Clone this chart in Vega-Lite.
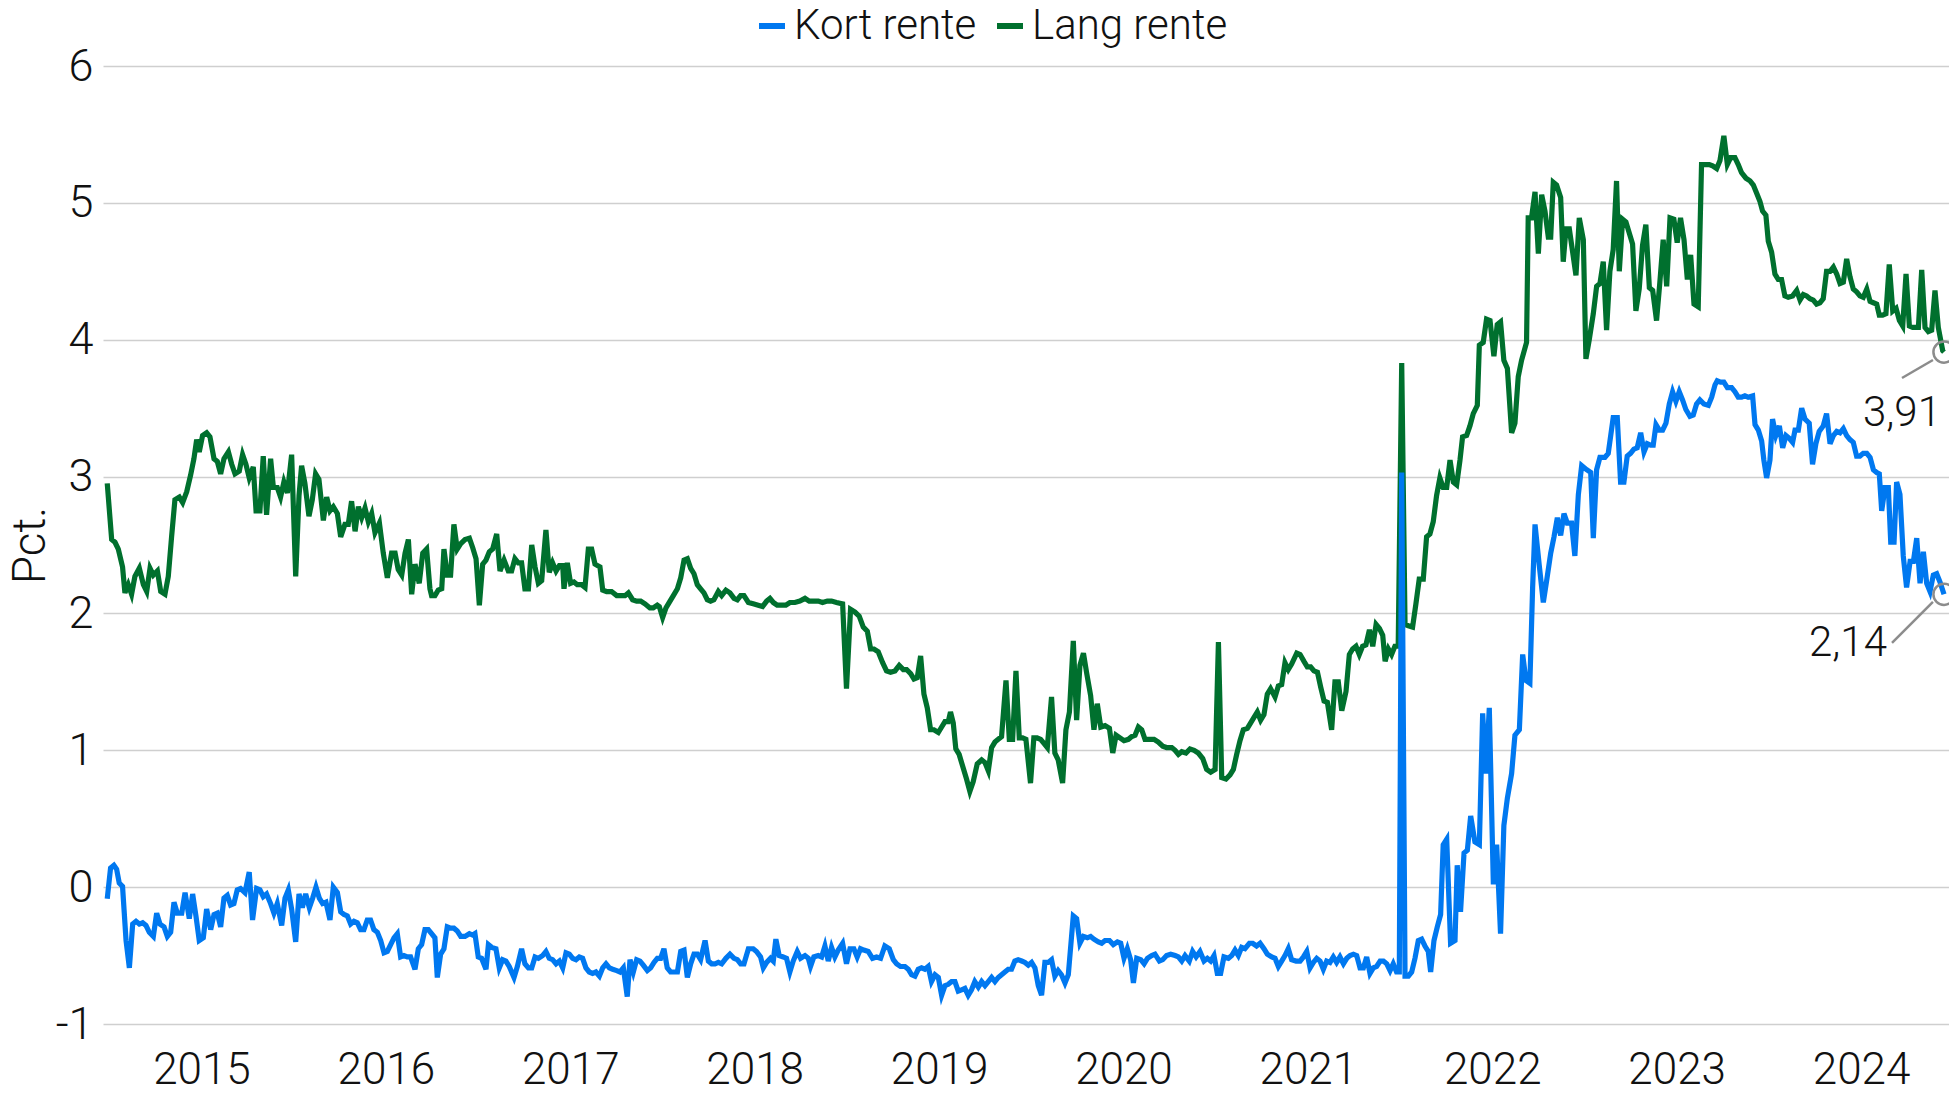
{
"$schema":"https://vega.github.io/schema/vega-lite/v6.json",
"width":1846,"height":958,
"autosize":{"type":"none"},
"padding":{"left":103,"top":66,"right":0,"bottom":70},
"background":"white",
"config":{
"view":{"stroke":null},
"font":"Roboto",
"axisX":{"grid":false,"ticks":false,"tickSize":0,"domain":false,"labelFontSize":44,"labelFont":"Roboto","labelFontWeight":300,"labelColor":"#111111","labelPadding":59,"labelBaseline":"alphabetic","labelFlush":false,"labelOverlap":false},
"axisY":{"grid":true,"gridColor":"#cfcfcf","gridWidth":1.3,"ticks":false,"tickSize":0,"domain":false,"labelFontSize":45,"labelFont":"Roboto","labelFontWeight":300,"labelColor":"#111111","labelPadding":10,"titleFontSize":46,"titleFont":"Roboto","titleFontWeight":300,"titleColor":"#111111"},
"legend":{"orient":"none","legendX":648,"legendY":-61,"direction":"horizontal","symbolType":"stroke","symbolStrokeWidth":6,"symbolSize":676,"labelFontSize":42,"labelFont":"Roboto","labelFontWeight":300,"labelColor":"#111111","labelOffset":1,"labelLimit":500,"columnPadding":8,"padding":0}
},
"datasets":{
"lang":[
{"t":2014.989,"v":2.95},{"t":2015.013,"v":2.54},{"t":2015.031,"v":2.52},{"t":2015.049,"v":2.47},{"t":2015.072,"v":2.34},{"t":2015.085,"v":2.15},{"t":2015.103,"v":2.21},{"t":2015.121,"v":2.14},{"t":2015.139,"v":2.27},{"t":2015.163,"v":2.33},{"t":2015.185,"v":2.21},{"t":2015.203,"v":2.16},{"t":2015.221,"v":2.33},{"t":2015.239,"v":2.28},{"t":2015.261,"v":2.31},{"t":2015.279,"v":2.16},{"t":2015.302,"v":2.14},{"t":2015.320,"v":2.27},{"t":2015.338,"v":2.56},{"t":2015.356,"v":2.83},{"t":2015.380,"v":2.85},{"t":2015.398,"v":2.81},{"t":2015.420,"v":2.89},{"t":2015.441,"v":3.01},{"t":2015.459,"v":3.13},{"t":2015.474,"v":3.27},{"t":2015.488,"v":3.18},{"t":2015.506,"v":3.30},{"t":2015.528,"v":3.32},{"t":2015.546,"v":3.29},{"t":2015.568,"v":3.13},{"t":2015.586,"v":3.11},{"t":2015.604,"v":3.02},{"t":2015.622,"v":3.13},{"t":2015.646,"v":3.18},{"t":2015.664,"v":3.09},{"t":2015.682,"v":3.02},{"t":2015.705,"v":3.04},{"t":2015.723,"v":3.16},{"t":2015.741,"v":3.09},{"t":2015.759,"v":2.99},{"t":2015.781,"v":3.07},{"t":2015.796,"v":2.75},{"t":2015.817,"v":2.75},{"t":2015.835,"v":3.15},{"t":2015.853,"v":2.72},{"t":2015.875,"v":3.13},{"t":2015.890,"v":2.92},{"t":2015.911,"v":2.92},{"t":2015.929,"v":2.85},{"t":2015.947,"v":2.96},{"t":2015.966,"v":2.88},{"t":2015.989,"v":3.16},{"t":2016.011,"v":2.27},{"t":2016.029,"v":2.86},{"t":2016.043,"v":3.08},{"t":2016.061,"v":2.95},{"t":2016.083,"v":2.71},{"t":2016.101,"v":2.83},{"t":2016.119,"v":3.02},{"t":2016.137,"v":2.98},{"t":2016.161,"v":2.68},{"t":2016.179,"v":2.85},{"t":2016.197,"v":2.75},{"t":2016.215,"v":2.78},{"t":2016.237,"v":2.73},{"t":2016.255,"v":2.56},{"t":2016.278,"v":2.65},{"t":2016.296,"v":2.65},{"t":2016.314,"v":2.82},{"t":2016.333,"v":2.60},{"t":2016.351,"v":2.78},{"t":2016.369,"v":2.70},{"t":2016.387,"v":2.77},{"t":2016.405,"v":2.67},{"t":2016.423,"v":2.73},{"t":2016.441,"v":2.59},{"t":2016.465,"v":2.66},{"t":2016.486,"v":2.44},{"t":2016.508,"v":2.26},{"t":2016.531,"v":2.44},{"t":2016.550,"v":2.44},{"t":2016.567,"v":2.32},{"t":2016.586,"v":2.28},{"t":2016.604,"v":2.44},{"t":2016.622,"v":2.54},{"t":2016.640,"v":2.14},{"t":2016.658,"v":2.36},{"t":2016.681,"v":2.22},{"t":2016.700,"v":2.44},{"t":2016.721,"v":2.47},{"t":2016.739,"v":2.18},
{"t":2016.748,"v":2.13},{"t":2016.766,"v":2.13},{"t":2016.784,"v":2.17},{"t":2016.803,"v":2.18},{"t":2016.815,"v":2.47},{"t":2016.833,"v":2.28},{"t":2016.851,"v":2.28},{"t":2016.869,"v":2.65},{"t":2016.887,"v":2.47},{"t":2016.906,"v":2.51},{"t":2016.929,"v":2.54},{"t":2016.953,"v":2.55},{"t":2016.971,"v":2.48},{"t":2016.989,"v":2.40},{"t":2017.007,"v":2.06},{"t":2017.025,"v":2.36},{"t":2017.043,"v":2.39},{"t":2017.061,"v":2.45},{"t":2017.079,"v":2.47},{"t":2017.101,"v":2.58},{"t":2017.119,"v":2.31},{"t":2017.141,"v":2.39},{"t":2017.164,"v":2.31},{"t":2017.182,"v":2.31},{"t":2017.200,"v":2.40},{"t":2017.218,"v":2.37},{"t":2017.236,"v":2.37},{"t":2017.254,"v":2.18},{"t":2017.273,"v":2.18},{"t":2017.291,"v":2.50},{"t":2017.309,"v":2.34},{"t":2017.327,"v":2.22},{"t":2017.345,"v":2.24},{"t":2017.368,"v":2.61},{"t":2017.386,"v":2.30},{"t":2017.404,"v":2.37},{"t":2017.423,"v":2.31},{"t":2017.441,"v":2.35},{"t":2017.459,"v":2.35},{"t":2017.466,"v":2.18},{"t":2017.484,"v":2.37},{"t":2017.502,"v":2.22},{"t":2017.520,"v":2.23},{"t":2017.538,"v":2.21},{"t":2017.562,"v":2.21},{"t":2017.580,"v":2.19},{"t":2017.598,"v":2.47},{"t":2017.616,"v":2.47},{"t":2017.634,"v":2.36},{"t":2017.661,"v":2.34},{"t":2017.676,"v":2.17},{"t":2017.697,"v":2.16},{"t":2017.724,"v":2.16},{"t":2017.752,"v":2.13},{"t":2017.779,"v":2.13},{"t":2017.797,"v":2.13},{"t":2017.815,"v":2.15},{"t":2017.838,"v":2.10},{"t":2017.860,"v":2.09},{"t":2017.882,"v":2.09},{"t":2017.905,"v":2.07},{"t":2017.932,"v":2.04},{"t":2017.950,"v":2.04},{"t":2017.972,"v":2.06},{"t":2017.983,"v":2.05},{"t":2018.001,"v":1.97},{"t":2018.019,"v":2.04},{"t":2018.041,"v":2.09},{"t":2018.059,"v":2.13},{"t":2018.081,"v":2.18},{"t":2018.099,"v":2.26},{"t":2018.117,"v":2.39},{"t":2018.135,"v":2.40},{"t":2018.153,"v":2.33},{"t":2018.171,"v":2.29},{"t":2018.189,"v":2.21},{"t":2018.207,"v":2.18},{"t":2018.225,"v":2.15},{"t":2018.243,"v":2.10},{"t":2018.261,"v":2.09},{"t":2018.279,"v":2.10},{"t":2018.303,"v":2.16},{"t":2018.321,"v":2.13},{"t":2018.344,"v":2.17},{"t":2018.366,"v":2.15},{"t":2018.388,"v":2.11},{"t":2018.406,"v":2.10},{"t":2018.424,"v":2.13},{"t":2018.442,"v":2.13},{"t":2018.466,"v":2.08},
{"t":2018.492,"v":2.07},{"t":2018.519,"v":2.06},{"t":2018.543,"v":2.05},{"t":2018.565,"v":2.09},{"t":2018.583,"v":2.11},{"t":2018.601,"v":2.08},{"t":2018.622,"v":2.06},{"t":2018.646,"v":2.06},{"t":2018.669,"v":2.06},{"t":2018.691,"v":2.08},{"t":2018.718,"v":2.08},{"t":2018.745,"v":2.09},{"t":2018.773,"v":2.11},{"t":2018.796,"v":2.09},{"t":2018.821,"v":2.09},{"t":2018.845,"v":2.09},{"t":2018.868,"v":2.08},{"t":2018.894,"v":2.09},{"t":2018.917,"v":2.09},{"t":2018.944,"v":2.08},{"t":2018.977,"v":2.07},{"t":2018.998,"v":1.45},{"t":2019.020,"v":2.03},{"t":2019.044,"v":2.01},{"t":2019.067,"v":1.98},{"t":2019.089,"v":1.90},{"t":2019.111,"v":1.87},{"t":2019.129,"v":1.74},{"t":2019.147,"v":1.74},{"t":2019.170,"v":1.72},{"t":2019.194,"v":1.64},{"t":2019.215,"v":1.58},{"t":2019.237,"v":1.57},{"t":2019.261,"v":1.58},{"t":2019.284,"v":1.62},{"t":2019.306,"v":1.59},{"t":2019.324,"v":1.59},{"t":2019.346,"v":1.56},{"t":2019.364,"v":1.52},{"t":2019.382,"v":1.53},{"t":2019.400,"v":1.69},{"t":2019.418,"v":1.41},{"t":2019.436,"v":1.31},{"t":2019.454,"v":1.15},{"t":2019.472,"v":1.15},{"t":2019.496,"v":1.13},{"t":2019.514,"v":1.17},{"t":2019.532,"v":1.21},{"t":2019.550,"v":1.21},{"t":2019.562,"v":1.28},{"t":2019.577,"v":1.20},{"t":2019.591,"v":1.01},{"t":2019.609,"v":0.97},{"t":2019.631,"v":0.87},{"t":2019.649,"v":0.79},{"t":2019.667,"v":0.70},{"t":2019.685,"v":0.77},{"t":2019.707,"v":0.90},{"t":2019.731,"v":0.93},{"t":2019.749,"v":0.91},{"t":2019.767,"v":0.85},{"t":2019.785,"v":1.02},{"t":2019.803,"v":1.06},{"t":2019.821,"v":1.08},{"t":2019.839,"v":1.10},{"t":2019.863,"v":1.51},{"t":2019.881,"v":1.08},{"t":2019.899,"v":1.08},{"t":2019.917,"v":1.58},{"t":2019.935,"v":1.09},{"t":2019.953,"v":1.09},{"t":2019.971,"v":1.08},{"t":2019.996,"v":0.76},{"t":2020.014,"v":1.09},{"t":2020.032,"v":1.09},{"t":2020.051,"v":1.08},{"t":2020.069,"v":1.05},{"t":2020.087,"v":1.02},{"t":2020.110,"v":1.39},{"t":2020.128,"v":0.98},{"t":2020.146,"v":0.93},{"t":2020.170,"v":0.76},{"t":2020.188,"v":1.15},
{"t":2020.207,"v":1.28},{"t":2020.228,"v":1.80},{"t":2020.246,"v":1.22},{"t":2020.264,"v":1.62},{"t":2020.283,"v":1.71},{"t":2020.301,"v":1.56},{"t":2020.322,"v":1.40},{"t":2020.340,"v":1.15},{"t":2020.358,"v":1.34},{"t":2020.377,"v":1.17},{"t":2020.400,"v":1.18},{"t":2020.424,"v":1.16},{"t":2020.442,"v":0.98},{"t":2020.460,"v":1.11},{"t":2020.481,"v":1.09},{"t":2020.503,"v":1.07},{"t":2020.527,"v":1.08},{"t":2020.545,"v":1.10},{"t":2020.563,"v":1.11},{"t":2020.581,"v":1.17},{"t":2020.599,"v":1.15},{"t":2020.617,"v":1.08},{"t":2020.640,"v":1.08},{"t":2020.666,"v":1.08},{"t":2020.689,"v":1.06},{"t":2020.713,"v":1.03},{"t":2020.734,"v":1.02},{"t":2020.762,"v":1.02},{"t":2020.780,"v":1.00},{"t":2020.798,"v":0.97},{"t":2020.816,"v":0.99},{"t":2020.839,"v":0.98},{"t":2020.861,"v":1.01},{"t":2020.883,"v":1.00},{"t":2020.906,"v":0.98},{"t":2020.930,"v":0.94},{"t":2020.951,"v":0.86},{"t":2020.973,"v":0.84},{"t":2020.997,"v":0.86},{"t":2021.015,"v":1.79},{"t":2021.033,"v":0.80},{"t":2021.056,"v":0.79},{"t":2021.078,"v":0.82},{"t":2021.096,"v":0.86},{"t":2021.114,"v":0.97},{"t":2021.132,"v":1.07},{"t":2021.150,"v":1.15},{"t":2021.172,"v":1.16},{"t":2021.190,"v":1.20},{"t":2021.208,"v":1.24},{"t":2021.226,"v":1.28},{"t":2021.244,"v":1.22},{"t":2021.262,"v":1.26},{"t":2021.280,"v":1.41},{"t":2021.298,"v":1.45},{"t":2021.322,"v":1.39},{"t":2021.340,"v":1.47},{"t":2021.358,"v":1.48},{"t":2021.376,"v":1.64},{"t":2021.394,"v":1.59},{"t":2021.412,"v":1.63},{"t":2021.440,"v":1.71},{"t":2021.458,"v":1.70},{"t":2021.479,"v":1.65},{"t":2021.497,"v":1.61},{"t":2021.515,"v":1.61},{"t":2021.533,"v":1.58},{"t":2021.552,"v":1.57},{"t":2021.570,"v":1.46},{"t":2021.588,"v":1.36},{"t":2021.606,"v":1.35},{"t":2021.629,"v":1.15},{"t":2021.647,"v":1.50},{"t":2021.665,"v":1.50},{"t":2021.684,"v":1.29},{"t":2021.707,"v":1.43},{"t":2021.725,"v":1.70},{"t":2021.743,"v":1.74},{"t":2021.761,"v":1.76},{"t":2021.779,"v":1.70},{"t":2021.797,"v":1.76},{"t":2021.815,"v":1.77},{"t":2021.834,"v":1.88},{"t":2021.852,"v":1.76},{"t":2021.870,"v":1.92},{"t":2021.888,"v":1.89},{"t":2021.906,"v":1.84},{"t":2021.919,"v":1.65},{"t":2021.937,"v":1.74},
{"t":2021.954,"v":1.70},{"t":2021.972,"v":1.76},{"t":2021.990,"v":1.76},{"t":2022.009,"v":3.83},{"t":2022.027,"v":1.92},{"t":2022.045,"v":1.91},{"t":2022.068,"v":1.90},{"t":2022.086,"v":2.07},{"t":2022.104,"v":2.25},{"t":2022.126,"v":2.25},{"t":2022.144,"v":2.56},{"t":2022.162,"v":2.58},{"t":2022.180,"v":2.67},{"t":2022.198,"v":2.86},{"t":2022.216,"v":2.99},{"t":2022.234,"v":2.92},{"t":2022.253,"v":2.92},{"t":2022.271,"v":3.12},{"t":2022.289,"v":2.96},{"t":2022.307,"v":2.94},{"t":2022.325,"v":3.12},{"t":2022.339,"v":3.29},{"t":2022.361,"v":3.30},{"t":2022.379,"v":3.37},{"t":2022.397,"v":3.46},{"t":2022.419,"v":3.52},{"t":2022.430,"v":3.96},{"t":2022.451,"v":3.98},{"t":2022.469,"v":4.15},{"t":2022.488,"v":4.14},{"t":2022.509,"v":3.88},{"t":2022.527,"v":4.11},{"t":2022.545,"v":4.13},{"t":2022.563,"v":3.85},{"t":2022.582,"v":3.79},{"t":2022.605,"v":3.32},{"t":2022.623,"v":3.39},{"t":2022.641,"v":3.73},{"t":2022.659,"v":3.85},{"t":2022.686,"v":3.98},{"t":2022.695,"v":4.89},{"t":2022.713,"v":4.89},{"t":2022.732,"v":5.08},{"t":2022.750,"v":4.63},{"t":2022.768,"v":5.06},{"t":2022.786,"v":4.94},{"t":2022.804,"v":4.75},{"t":2022.817,"v":4.75},{"t":2022.831,"v":5.15},{"t":2022.849,"v":5.13},{"t":2022.871,"v":5.04},{"t":2022.885,"v":4.57},{"t":2022.900,"v":4.81},{"t":2022.918,"v":4.81},{"t":2022.936,"v":4.64},{"t":2022.954,"v":4.47},{"t":2022.972,"v":4.89},{"t":2022.994,"v":4.73},{"t":2023.008,"v":3.86},{"t":2023.026,"v":4.00},{"t":2023.048,"v":4.19},{"t":2023.066,"v":4.39},{"t":2023.084,"v":4.41},{"t":2023.102,"v":4.57},{"t":2023.120,"v":4.07},{"t":2023.138,"v":4.50},
{"t":2023.156,"v":4.66},{"t":2023.174,"v":5.16},{"t":2023.189,"v":4.50},{"t":2023.207,"v":4.88},{"t":2023.225,"v":4.86},{"t":2023.243,"v":4.78},{"t":2023.261,"v":4.70},{"t":2023.279,"v":4.21},{"t":2023.297,"v":4.37},{"t":2023.315,"v":4.69},{"t":2023.333,"v":4.84},{"t":2023.352,"v":4.38},{"t":2023.370,"v":4.36},{"t":2023.391,"v":4.14},{"t":2023.409,"v":4.42},{"t":2023.427,"v":4.73},{"t":2023.446,"v":4.39},{"t":2023.464,"v":4.89},{"t":2023.485,"v":4.88},{"t":2023.503,"v":4.71},{"t":2023.521,"v":4.89},{"t":2023.540,"v":4.73},{"t":2023.558,"v":4.44},{"t":2023.576,"v":4.62},{"t":2023.594,"v":4.26},{"t":2023.617,"v":4.24},{"t":2023.635,"v":5.28},{"t":2023.653,"v":5.28},{"t":2023.677,"v":5.28},{"t":2023.695,"v":5.27},{"t":2023.717,"v":5.25},{"t":2023.735,"v":5.31},{"t":2023.756,"v":5.49},{"t":2023.775,"v":5.28},{"t":2023.793,"v":5.33},{"t":2023.816,"v":5.33},{"t":2023.834,"v":5.28},{"t":2023.852,"v":5.22},{"t":2023.876,"v":5.18},{"t":2023.898,"v":5.16},{"t":2023.916,"v":5.13},{"t":2023.934,"v":5.07},{"t":2023.952,"v":5.01},{"t":2023.966,"v":4.94},{"t":2023.984,"v":4.91},{"t":2023.997,"v":4.72},{"t":2024.015,"v":4.64},{"t":2024.033,"v":4.48},{"t":2024.051,"v":4.44},{"t":2024.069,"v":4.44},{"t":2024.087,"v":4.32},{"t":2024.105,"v":4.31},{"t":2024.129,"v":4.32},{"t":2024.151,"v":4.36},{"t":2024.169,"v":4.29},{"t":2024.187,"v":4.33},{"t":2024.205,"v":4.32},{"t":2024.223,"v":4.30},{"t":2024.241,"v":4.29},{"t":2024.259,"v":4.26},{"t":2024.277,"v":4.27},{"t":2024.295,"v":4.30},{"t":2024.313,"v":4.50},
{"t":2024.332,"v":4.50},{"t":2024.350,"v":4.53},{"t":2024.368,"v":4.48},{"t":2024.386,"v":4.41},{"t":2024.404,"v":4.42},{"t":2024.422,"v":4.59},{"t":2024.440,"v":4.46},{"t":2024.458,"v":4.37},{"t":2024.476,"v":4.35},{"t":2024.494,"v":4.32},{"t":2024.512,"v":4.31},{"t":2024.531,"v":4.37},{"t":2024.549,"v":4.28},{"t":2024.567,"v":4.27},{"t":2024.585,"v":4.26},{"t":2024.599,"v":4.18},{"t":2024.617,"v":4.18},{"t":2024.635,"v":4.19},{"t":2024.653,"v":4.55},{"t":2024.672,"v":4.21},{"t":2024.690,"v":4.23},{"t":2024.708,"v":4.14},{"t":2024.726,"v":4.10},{"t":2024.744,"v":4.48},{"t":2024.762,"v":4.10},{"t":2024.780,"v":4.09},{"t":2024.798,"v":4.09},{"t":2024.811,"v":4.09},{"t":2024.829,"v":4.51},{"t":2024.847,"v":4.09},{"t":2024.865,"v":4.06},{"t":2024.883,"v":4.07},{"t":2024.901,"v":4.36},{"t":2024.919,"v":4.09},{"t":2024.943,"v":3.92},{"t":2024.950,"v":3.91}
],
"kort":[
{"t":2014.989,"v":-0.085},{"t":2015.007,"v":0.14},{"t":2015.025,"v":0.16},{"t":2015.040,"v":0.13},{"t":2015.054,"v":0.03},{"t":2015.072,"v":0.005},{"t":2015.091,"v":-0.39},{"t":2015.109,"v":-0.59},{"t":2015.127,"v":-0.27},{"t":2015.145,"v":-0.25},{"t":2015.163,"v":-0.27},{"t":2015.181,"v":-0.26},{"t":2015.199,"v":-0.28},{"t":2015.217,"v":-0.33},{"t":2015.239,"v":-0.36},{"t":2015.257,"v":-0.19},{"t":2015.275,"v":-0.27},{"t":2015.297,"v":-0.29},{"t":2015.315,"v":-0.36},{"t":2015.333,"v":-0.33},{"t":2015.351,"v":-0.11},{"t":2015.369,"v":-0.19},{"t":2015.393,"v":-0.19},{"t":2015.411,"v":-0.04},{"t":2015.434,"v":-0.23},{"t":2015.452,"v":-0.05},{"t":2015.470,"v":-0.21},{"t":2015.488,"v":-0.39},{"t":2015.510,"v":-0.37},{"t":2015.528,"v":-0.16},{"t":2015.550,"v":-0.31},{"t":2015.568,"v":-0.20},{"t":2015.586,"v":-0.19},{"t":2015.604,"v":-0.29},{"t":2015.622,"v":-0.08},{"t":2015.640,"v":-0.06},{"t":2015.658,"v":-0.13},{"t":2015.676,"v":-0.12},{"t":2015.694,"v":-0.02},{"t":2015.712,"v":-0.01},{"t":2015.736,"v":-0.04},{"t":2015.759,"v":0.11},{"t":2015.777,"v":-0.24},{"t":2015.799,"v":-0.01},{"t":2015.817,"v":-0.02},{"t":2015.835,"v":-0.07},{"t":2015.853,"v":-0.05},{"t":2015.875,"v":-0.12},{"t":2015.893,"v":-0.19},{"t":2015.911,"v":-0.12},{"t":2015.935,"v":-0.28},{"t":2015.953,"v":-0.08},{"t":2015.971,"v":-0.02},{"t":2015.989,"v":-0.16},{"t":2016.011,"v":-0.40},{"t":2016.029,"v":-0.05},{"t":2016.047,"v":-0.15},{"t":2016.065,"v":-0.05},{"t":2016.085,"v":-0.15},{"t":2016.103,"v":-0.08},{"t":2016.121,"v":0.0},{"t":2016.139,"v":-0.08},{"t":2016.157,"v":-0.12},{"t":2016.175,"v":-0.11},{"t":2016.197,"v":-0.24},{"t":2016.215,"v":0.0},{"t":2016.237,"v":-0.04},{"t":2016.255,"v":-0.18},{"t":2016.273,"v":-0.20},{"t":2016.291,"v":-0.21},{"t":2016.309,"v":-0.27},{"t":2016.327,"v":-0.25},{"t":2016.345,"v":-0.26},{"t":2016.363,"v":-0.31},{"t":2016.381,"v":-0.31},{"t":2016.399,"v":-0.24},{"t":2016.417,"v":-0.24},{"t":2016.435,"v":-0.31},{"t":2016.454,"v":-0.33},{"t":2016.472,"v":-0.39},{"t":2016.490,"v":-0.48},{"t":2016.508,"v":-0.47},{"t":2016.526,"v":-0.42},{"t":2016.544,"v":-0.37},{"t":2016.562,"v":-0.34},{"t":2016.580,"v":-0.51},{"t":2016.598,"v":-0.50},{"t":2016.616,"v":-0.51},{"t":2016.634,"v":-0.51},{"t":2016.658,"v":-0.60},{"t":2016.676,"v":-0.45},{"t":2016.694,"v":-0.42},{"t":2016.712,"v":-0.31},{"t":2016.730,"v":-0.31},
{"t":2016.748,"v":-0.34},{"t":2016.766,"v":-0.37},{"t":2016.779,"v":-0.66},{"t":2016.797,"v":-0.49},{"t":2016.815,"v":-0.45},{"t":2016.833,"v":-0.29},{"t":2016.851,"v":-0.30},{"t":2016.869,"v":-0.30},{"t":2016.887,"v":-0.32},{"t":2016.906,"v":-0.36},{"t":2016.929,"v":-0.36},{"t":2016.953,"v":-0.34},{"t":2016.971,"v":-0.35},{"t":2016.983,"v":-0.34},{"t":2017.001,"v":-0.51},{"t":2017.019,"v":-0.52},{"t":2017.043,"v":-0.60},{"t":2017.056,"v":-0.42},{"t":2017.074,"v":-0.44},{"t":2017.097,"v":-0.45},{"t":2017.115,"v":-0.59},{"t":2017.133,"v":-0.53},{"t":2017.151,"v":-0.54},{"t":2017.169,"v":-0.58},{"t":2017.195,"v":-0.66},{"t":2017.213,"v":-0.58},{"t":2017.236,"v":-0.45},{"t":2017.254,"v":-0.56},{"t":2017.273,"v":-0.59},{"t":2017.291,"v":-0.59},{"t":2017.309,"v":-0.51},{"t":2017.327,"v":-0.52},{"t":2017.350,"v":-0.50},{"t":2017.368,"v":-0.47},{"t":2017.386,"v":-0.52},{"t":2017.404,"v":-0.53},{"t":2017.423,"v":-0.56},{"t":2017.441,"v":-0.54},{"t":2017.459,"v":-0.59},{"t":2017.477,"v":-0.48},{"t":2017.495,"v":-0.49},{"t":2017.513,"v":-0.52},{"t":2017.531,"v":-0.53},{"t":2017.549,"v":-0.51},{"t":2017.567,"v":-0.52},{"t":2017.585,"v":-0.59},{"t":2017.603,"v":-0.62},{"t":2017.621,"v":-0.63},{"t":2017.639,"v":-0.62},{"t":2017.658,"v":-0.65},{"t":2017.676,"v":-0.59},{"t":2017.694,"v":-0.56},{"t":2017.712,"v":-0.59},{"t":2017.730,"v":-0.60},{"t":2017.752,"v":-0.61},{"t":2017.770,"v":-0.62},{"t":2017.788,"v":-0.59},{"t":2017.809,"v":-0.80},{"t":2017.824,"v":-0.53},{"t":2017.842,"v":-0.62},{"t":2017.860,"v":-0.53},{"t":2017.878,"v":-0.54},{"t":2017.896,"v":-0.57},{"t":2017.918,"v":-0.61},{"t":2017.936,"v":-0.59},{"t":2017.954,"v":-0.55},{"t":2017.972,"v":-0.52},{"t":2017.990,"v":-0.52},{"t":2018.008,"v":-0.45},{"t":2018.026,"v":-0.59},{"t":2018.044,"v":-0.62},{"t":2018.062,"v":-0.62},{"t":2018.081,"v":-0.62},{"t":2018.099,"v":-0.47},{"t":2018.117,"v":-0.46},{"t":2018.135,"v":-0.66},{"t":2018.153,"v":-0.56},{"t":2018.171,"v":-0.49},{"t":2018.189,"v":-0.49},{"t":2018.207,"v":-0.53},{"t":2018.231,"v":-0.39},{"t":2018.249,"v":-0.54},{"t":2018.267,"v":-0.56},{"t":2018.285,"v":-0.56},{"t":2018.303,"v":-0.55},{"t":2018.321,"v":-0.56},{"t":2018.344,"v":-0.52},{"t":2018.366,"v":-0.49},{"t":2018.388,"v":-0.52},{"t":2018.406,"v":-0.53},{"t":2018.424,"v":-0.56},{"t":2018.442,"v":-0.56},{"t":2018.466,"v":-0.45},
{"t":2018.492,"v":-0.45},{"t":2018.510,"v":-0.47},{"t":2018.532,"v":-0.51},{"t":2018.547,"v":-0.59},{"t":2018.565,"v":-0.55},{"t":2018.586,"v":-0.52},{"t":2018.601,"v":-0.54},{"t":2018.615,"v":-0.38},{"t":2018.633,"v":-0.50},{"t":2018.655,"v":-0.51},{"t":2018.673,"v":-0.52},{"t":2018.691,"v":-0.62},{"t":2018.709,"v":-0.54},{"t":2018.731,"v":-0.47},{"t":2018.749,"v":-0.52},{"t":2018.773,"v":-0.50},{"t":2018.791,"v":-0.52},{"t":2018.803,"v":-0.58},{"t":2018.821,"v":-0.51},{"t":2018.845,"v":-0.50},{"t":2018.863,"v":-0.51},{"t":2018.881,"v":-0.43},{"t":2018.899,"v":-0.54},{"t":2018.917,"v":-0.44},{"t":2018.935,"v":-0.51},{"t":2018.953,"v":-0.46},{"t":2018.977,"v":-0.41},{"t":2018.998,"v":-0.56},{"t":2019.017,"v":-0.45},{"t":2019.038,"v":-0.45},{"t":2019.056,"v":-0.51},{"t":2019.074,"v":-0.45},{"t":2019.092,"v":-0.46},{"t":2019.116,"v":-0.47},{"t":2019.139,"v":-0.52},{"t":2019.161,"v":-0.51},{"t":2019.183,"v":-0.52},{"t":2019.206,"v":-0.43},{"t":2019.230,"v":-0.45},{"t":2019.252,"v":-0.53},{"t":2019.270,"v":-0.56},{"t":2019.291,"v":-0.58},{"t":2019.315,"v":-0.58},{"t":2019.333,"v":-0.60},{"t":2019.351,"v":-0.64},{"t":2019.369,"v":-0.65},{"t":2019.387,"v":-0.60},{"t":2019.405,"v":-0.59},{"t":2019.423,"v":-0.60},{"t":2019.441,"v":-0.58},{"t":2019.459,"v":-0.69},{"t":2019.478,"v":-0.64},{"t":2019.496,"v":-0.66},{"t":2019.514,"v":-0.79},{"t":2019.532,"v":-0.72},{"t":2019.550,"v":-0.71},{"t":2019.568,"v":-0.69},{"t":2019.586,"v":-0.69},{"t":2019.604,"v":-0.76},{"t":2019.622,"v":-0.75},{"t":2019.640,"v":-0.74},{"t":2019.658,"v":-0.79},{"t":2019.676,"v":-0.75},{"t":2019.694,"v":-0.69},{"t":2019.713,"v":-0.73},{"t":2019.731,"v":-0.69},{"t":2019.749,"v":-0.72},{"t":2019.767,"v":-0.69},{"t":2019.785,"v":-0.66},{"t":2019.803,"v":-0.69},{"t":2019.821,"v":-0.66},{"t":2019.839,"v":-0.64},{"t":2019.857,"v":-0.62},{"t":2019.875,"v":-0.60},{"t":2019.893,"v":-0.60},{"t":2019.911,"v":-0.54},{"t":2019.929,"v":-0.53},{"t":2019.948,"v":-0.54},{"t":2019.966,"v":-0.55},{"t":2019.984,"v":-0.57},{"t":2020.002,"v":-0.55},{"t":2020.020,"v":-0.59},{"t":2020.038,"v":-0.72},{"t":2020.056,"v":-0.79},{"t":2020.074,"v":-0.55},{"t":2020.092,"v":-0.55},{"t":2020.110,"v":-0.53},{"t":2020.128,"v":-0.65},{"t":2020.146,"v":-0.61},{"t":2020.164,"v":-0.64},{"t":2020.183,"v":-0.70},{"t":2020.201,"v":-0.64},
{"t":2020.228,"v":-0.21},{"t":2020.246,"v":-0.23},{"t":2020.264,"v":-0.41},{"t":2020.283,"v":-0.36},{"t":2020.304,"v":-0.37},{"t":2020.322,"v":-0.36},{"t":2020.340,"v":-0.38},{"t":2020.364,"v":-0.40},{"t":2020.382,"v":-0.41},{"t":2020.400,"v":-0.39},{"t":2020.424,"v":-0.39},{"t":2020.445,"v":-0.42},{"t":2020.467,"v":-0.40},{"t":2020.485,"v":-0.41},{"t":2020.503,"v":-0.52},{"t":2020.521,"v":-0.45},{"t":2020.539,"v":-0.53},{"t":2020.554,"v":-0.70},{"t":2020.572,"v":-0.52},{"t":2020.594,"v":-0.53},{"t":2020.612,"v":-0.56},{"t":2020.630,"v":-0.52},{"t":2020.653,"v":-0.50},{"t":2020.671,"v":-0.49},{"t":2020.695,"v":-0.54},{"t":2020.713,"v":-0.53},{"t":2020.734,"v":-0.50},{"t":2020.756,"v":-0.49},{"t":2020.780,"v":-0.50},{"t":2020.798,"v":-0.51},{"t":2020.816,"v":-0.54},{"t":2020.834,"v":-0.50},{"t":2020.857,"v":-0.54},{"t":2020.875,"v":-0.47},{"t":2020.894,"v":-0.51},{"t":2020.915,"v":-0.47},{"t":2020.937,"v":-0.54},{"t":2020.955,"v":-0.52},{"t":2020.973,"v":-0.54},{"t":2020.991,"v":-0.50},{"t":2021.009,"v":-0.63},{"t":2021.027,"v":-0.63},{"t":2021.045,"v":-0.51},{"t":2021.069,"v":-0.52},{"t":2021.087,"v":-0.50},{"t":2021.105,"v":-0.46},{"t":2021.123,"v":-0.50},{"t":2021.141,"v":-0.44},{"t":2021.159,"v":-0.45},{"t":2021.183,"v":-0.41},{"t":2021.201,"v":-0.41},{"t":2021.222,"v":-0.43},{"t":2021.241,"v":-0.41},{"t":2021.262,"v":-0.45},{"t":2021.280,"v":-0.49},{"t":2021.304,"v":-0.51},{"t":2021.322,"v":-0.52},{"t":2021.340,"v":-0.58},{"t":2021.358,"v":-0.54},{"t":2021.376,"v":-0.50},{"t":2021.394,"v":-0.45},{"t":2021.412,"v":-0.53},{"t":2021.436,"v":-0.54},{"t":2021.458,"v":-0.54},{"t":2021.476,"v":-0.51},{"t":2021.494,"v":-0.47},{"t":2021.512,"v":-0.59},{"t":2021.530,"v":-0.55},{"t":2021.548,"v":-0.52},{"t":2021.566,"v":-0.54},{"t":2021.584,"v":-0.60},{"t":2021.602,"v":-0.54},{"t":2021.620,"v":-0.55},{"t":2021.638,"v":-0.51},{"t":2021.656,"v":-0.55},{"t":2021.674,"v":-0.51},{"t":2021.693,"v":-0.56},{"t":2021.711,"v":-0.52},{"t":2021.729,"v":-0.50},{"t":2021.747,"v":-0.49},{"t":2021.765,"v":-0.50},{"t":2021.783,"v":-0.59},{"t":2021.801,"v":-0.59},{"t":2021.819,"v":-0.51},{"t":2021.837,"v":-0.63},{"t":2021.855,"v":-0.59},{"t":2021.873,"v":-0.58},{"t":2021.892,"v":-0.54},{"t":2021.910,"v":-0.54},{"t":2021.928,"v":-0.56},{"t":2021.946,"v":-0.61},
{"t":2021.963,"v":-0.56},{"t":2021.981,"v":-0.62},{"t":2021.996,"v":-0.62},{"t":2022.009,"v":3.03},{"t":2022.027,"v":-0.65},{"t":2022.045,"v":-0.65},{"t":2022.063,"v":-0.62},{"t":2022.081,"v":-0.52},{"t":2022.099,"v":-0.39},{"t":2022.117,"v":-0.38},{"t":2022.135,"v":-0.43},{"t":2022.153,"v":-0.47},{"t":2022.166,"v":-0.62},{"t":2022.184,"v":-0.39},{"t":2022.202,"v":-0.29},{"t":2022.220,"v":-0.20},{"t":2022.234,"v":0.31},{"t":2022.253,"v":0.35},{"t":2022.274,"v":-0.41},{"t":2022.298,"v":-0.39},{"t":2022.310,"v":0.16},{"t":2022.328,"v":-0.18},{"t":2022.347,"v":0.25},{"t":2022.365,"v":0.27},{"t":2022.383,"v":0.52},{"t":2022.406,"v":0.33},{"t":2022.430,"v":0.31},{"t":2022.448,"v":1.27},{"t":2022.466,"v":0.83},{"t":2022.484,"v":1.31},{"t":2022.506,"v":0.02},{"t":2022.524,"v":0.31},{"t":2022.545,"v":-0.34},{"t":2022.563,"v":0.45},{"t":2022.582,"v":0.65},{"t":2022.605,"v":0.83},{"t":2022.623,"v":1.11},{"t":2022.647,"v":1.15},{"t":2022.665,"v":1.70},{"t":2022.683,"v":1.51},{"t":2022.704,"v":1.49},{"t":2022.719,"v":2.19},{"t":2022.732,"v":2.65},{"t":2022.755,"v":2.35},{"t":2022.777,"v":2.08},{"t":2022.795,"v":2.24},{"t":2022.817,"v":2.44},{"t":2022.835,"v":2.56},{"t":2022.853,"v":2.70},{"t":2022.871,"v":2.57},{"t":2022.889,"v":2.73},{"t":2022.907,"v":2.66},{"t":2022.930,"v":2.66},{"t":2022.948,"v":2.42},{"t":2022.967,"v":2.87},{"t":2022.985,"v":3.08},{"t":2023.012,"v":3.05},{"t":2023.034,"v":3.03},{"t":2023.048,"v":2.55},{"t":2023.066,"v":3.05},{"t":2023.084,"v":3.14},{"t":2023.111,"v":3.14},{"t":2023.129,"v":3.17},
{"t":2023.156,"v":3.43},{"t":2023.178,"v":3.43},{"t":2023.196,"v":2.96},{"t":2023.214,"v":2.96},{"t":2023.232,"v":3.15},{"t":2023.250,"v":3.17},{"t":2023.268,"v":3.20},{"t":2023.286,"v":3.21},{"t":2023.305,"v":3.32},{"t":2023.323,"v":3.18},{"t":2023.341,"v":3.24},{"t":2023.359,"v":3.23},{"t":2023.373,"v":3.23},{"t":2023.388,"v":3.38},{"t":2023.406,"v":3.34},{"t":2023.424,"v":3.34},{"t":2023.442,"v":3.39},{"t":2023.460,"v":3.53},{"t":2023.478,"v":3.62},{"t":2023.496,"v":3.55},{"t":2023.514,"v":3.62},{"t":2023.532,"v":3.56},{"t":2023.550,"v":3.49},{"t":2023.572,"v":3.44},{"t":2023.590,"v":3.45},{"t":2023.608,"v":3.53},{"t":2023.626,"v":3.56},{"t":2023.648,"v":3.53},{"t":2023.672,"v":3.52},{"t":2023.690,"v":3.58},{"t":2023.708,"v":3.67},{"t":2023.720,"v":3.70},{"t":2023.738,"v":3.69},{"t":2023.756,"v":3.69},{"t":2023.775,"v":3.65},{"t":2023.798,"v":3.65},{"t":2023.816,"v":3.62},{"t":2023.834,"v":3.58},{"t":2023.852,"v":3.58},{"t":2023.870,"v":3.59},{"t":2023.888,"v":3.58},{"t":2023.912,"v":3.59},{"t":2023.925,"v":3.38},{"t":2023.943,"v":3.34},{"t":2023.961,"v":3.26},{"t":2023.973,"v":3.12},{"t":2023.988,"v":2.99},{"t":2024.006,"v":3.12},{"t":2024.020,"v":3.42},{"t":2024.038,"v":3.30},{"t":2024.057,"v":3.37},{"t":2024.075,"v":3.21},{"t":2024.093,"v":3.30},{"t":2024.111,"v":3.28},{"t":2024.129,"v":3.25},{"t":2024.142,"v":3.34},{"t":2024.160,"v":3.34},{"t":2024.178,"v":3.50},{"t":2024.196,"v":3.42},{"t":2024.219,"v":3.39},{"t":2024.237,"v":3.09},{"t":2024.255,"v":3.24},{"t":2024.273,"v":3.33},{"t":2024.295,"v":3.37},{"t":2024.313,"v":3.46},
{"t":2024.332,"v":3.24},{"t":2024.350,"v":3.30},{"t":2024.368,"v":3.33},{"t":2024.386,"v":3.32},{"t":2024.404,"v":3.35},{"t":2024.422,"v":3.30},{"t":2024.440,"v":3.27},{"t":2024.458,"v":3.25},{"t":2024.476,"v":3.15},{"t":2024.494,"v":3.15},{"t":2024.512,"v":3.17},{"t":2024.531,"v":3.17},{"t":2024.549,"v":3.14},{"t":2024.567,"v":3.05},{"t":2024.585,"v":3.03},{"t":2024.599,"v":3.02},{"t":2024.612,"v":2.75},{"t":2024.630,"v":2.92},{"t":2024.648,"v":2.92},{"t":2024.661,"v":2.52},{"t":2024.679,"v":2.52},{"t":2024.693,"v":2.96},{"t":2024.711,"v":2.87},{"t":2024.729,"v":2.42},{"t":2024.747,"v":2.19},{"t":2024.766,"v":2.38},{"t":2024.784,"v":2.38},{"t":2024.802,"v":2.55},{"t":2024.820,"v":2.22},{"t":2024.838,"v":2.45},{"t":2024.856,"v":2.22},{"t":2024.874,"v":2.16},{"t":2024.892,"v":2.28},{"t":2024.910,"v":2.29},{"t":2024.928,"v":2.23},{"t":2024.950,"v":2.14}
],
"slut":[{"t":2024.950,"v":3.91},{"t":2024.950,"v":2.14}],
"streg":[{"t":2024.890,"v":3.852,"t2":2024.722,"v2":3.72},{"t":2024.890,"v":2.084,"t2":2024.668,"v2":1.784}],
"tekst":[{"t":2024.722,"v":3.465,"lab":"3,91"},{"t":2024.429,"v":1.784,"lab":"2,14"}]
},
"encoding":{
"x":{"field":"t","type":"quantitative","title":null,"scale":{"domain":[2014.966,2024.977],"nice":false,"zero":false},"axis":{"values":[2015.5,2016.5,2017.5,2018.5,2019.5,2020.5,2021.5,2022.5,2023.5,2024.5],"labelExpr":"floor(datum.value)","title":null}},
"y":{"field":"v","type":"quantitative","title":"Pct.","scale":{"domain":[-1,6],"nice":false,"zero":false},"axis":{"values":[-1,0,1,2,3,4,5,6],"labelExpr":"datum.value < 0 ? '-' + abs(datum.value) : '' + datum.value","title":"Pct.","titleX":-59,"titleY":479,"titleAngle":-90,"titleAlign":"center","titleBaseline":"alphabetic"}}
},
"layer":[
{"data":{"name":"lang"},"mark":{"type":"line","strokeWidth":5.2},"encoding":{"color":{"datum":"Lang rente","type":"nominal","scale":{"domain":["Kort rente","Lang rente"],"range":["#0078f0","#00702e"]},"legend":{"title":null}}}},
{"data":{"name":"kort"},"mark":{"type":"line","strokeWidth":5.2},"encoding":{"color":{"datum":"Kort rente","type":"nominal","legend":{"title":null}}}},
{"data":{"name":"streg"},"mark":{"type":"rule","color":"#8c8c8c","strokeWidth":2.5},"encoding":{"x2":{"field":"t2"},"y2":{"field":"v2"}}},
{"data":{"name":"slut"},"mark":{"type":"point","shape":"circle","filled":false,"color":"#8c8c8c","strokeWidth":2.5,"size":450,"opacity":1},"encoding":{}},
{"data":{"name":"tekst"},"mark":{"type":"text","font":"Roboto","fontSize":42,"fontWeight":300,"align":"center","baseline":"middle","color":"#111111"},"encoding":{"text":{"field":"lab"}}}
]
}
